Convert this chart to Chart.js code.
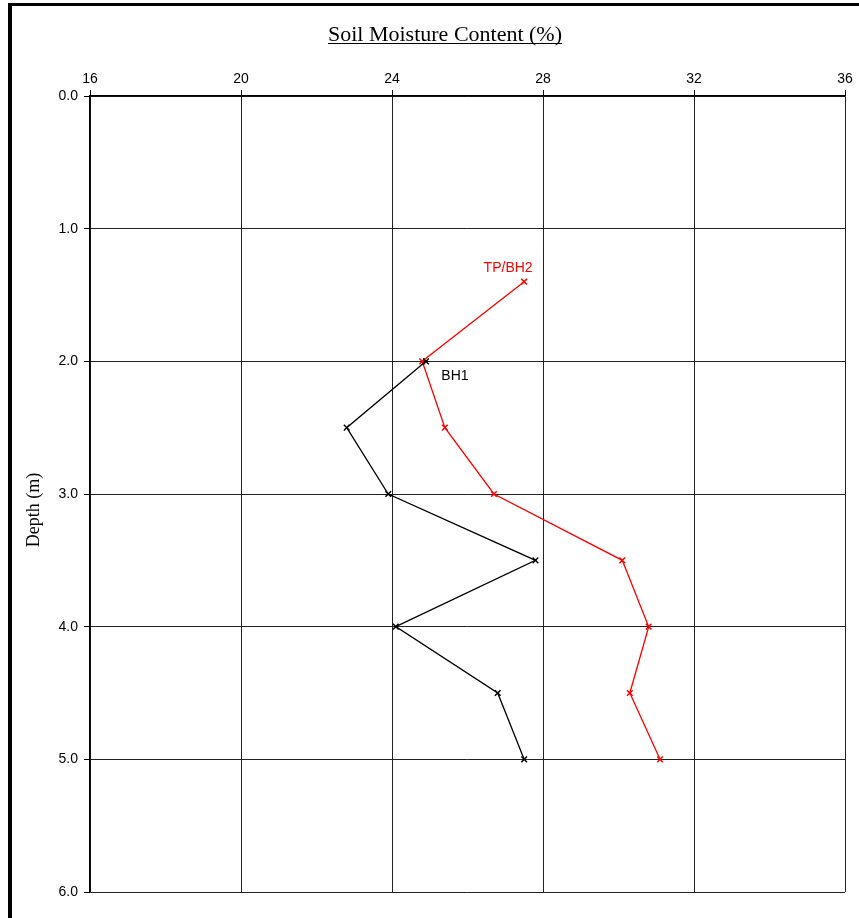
<!DOCTYPE html>
<html>
<head>
<meta charset="utf-8">
<script src="https://cdn.jsdelivr.net/npm/chart.js@4"></script>
<style>
    body { margin: 0; background: #fff; }
    #wrap { width: 859px; height: 918px; }
</style>
</head>
<body>
<div id="wrap"><canvas id="moistureChart" width="859" height="918"></canvas></div>
<script>
// BH1 borehole
const bh1Depth = [2.0, 2.5, 3.0, 3.5, 4.0, 4.5, 5.0];
const bh1Moisture = [24.9, 22.8, 23.9, 27.8, 24.1, 26.8, 27.5];

// TP/BH2 trial pit / borehole
const bh2Depth = [1.4, 2.0, 2.5, 3.0, 3.5, 4.0, 4.5, 5.0];
const bh2Moisture = [27.5, 24.8, 25.4, 26.7, 30.1, 30.8, 30.3, 31.1];

const seriesLabels = ['BH1', 'TP/BH2'];
const chartTitle = 'Soil Moisture Content (%)';
const depthTitle = 'Depth (m)';

function toPoints(xs, ys) {
    return xs.map(function (x, i) { return { x: x, y: ys[i] }; });
}

// outer frame (only left + top edge visible in the picture)
const framePlugin = {
    id: 'frame',
    beforeDraw: function (chart) {
        const ctx = chart.ctx;
        ctx.save();
        ctx.fillStyle = '#fff';
        ctx.fillRect(0, 0, chart.width, chart.height);
        ctx.fillStyle = '#000';
        ctx.fillRect(8, 3, 4, chart.height);
        ctx.fillRect(8, 3, chart.width - 8, 3);
        ctx.restore();
    }
};

// underlined title + rotated depth title
const titlesPlugin = {
    id: 'titles',
    afterDraw: function (chart) {
        const ctx = chart.ctx;
        ctx.save();
        ctx.fillStyle = '#000';
        ctx.font = '22px "Liberation Serif", "Times New Roman", serif';
        ctx.textAlign = 'center';
        ctx.textBaseline = 'alphabetic';
        const cx = 445, by = 41;
        ctx.fillText(chartTitle, cx, by);
        const w = ctx.measureText(chartTitle).width;
        ctx.fillRect(Math.round(cx - w / 2), by + 2, Math.round(w), 1);

        ctx.font = '18px "Liberation Serif", "Times New Roman", serif';
        ctx.translate(34, 510);
        ctx.rotate(-Math.PI / 2);
        ctx.textBaseline = 'middle';
        ctx.fillText(depthTitle, 0, 0);
        ctx.restore();
    }
};

// series names next to their first point
const seriesNamePlugin = {
    id: 'seriesNames',
    afterDatasetsDraw: function (chart) {
        const ctx = chart.ctx;
        ctx.save();
        ctx.font = '14px "Liberation Sans", Arial, sans-serif';
        ctx.textBaseline = 'middle';
        ctx.textAlign = 'center';

        const m1 = chart.getDatasetMeta(0).data[0];
        ctx.fillStyle = '#000';
        ctx.fillText(seriesLabels[0], m1.x + 29, m1.y + 15);

        const m2 = chart.getDatasetMeta(1).data[0];
        ctx.fillStyle = '#ff0000';
        ctx.fillText(seriesLabels[1], m2.x - 16, m2.y - 14);
        ctx.restore();
    }
};

document.addEventListener('DOMContentLoaded', function () {
    const ctx = document.getElementById('moistureChart').getContext('2d');
    new Chart(ctx, {
        type: 'scatter',
        data: {
            datasets: [
                {
                    label: seriesLabels[0],
                    data: toPoints(bh1Moisture, bh1Depth),
                    showLine: true,
                    borderColor: '#000',
                    backgroundColor: '#000',
                    borderWidth: 1.3,
                    pointStyle: 'crossRot',
                    pointRadius: 4,
                    pointBorderWidth: 1.5
                },
                {
                    label: seriesLabels[1],
                    data: toPoints(bh2Moisture, bh2Depth),
                    showLine: true,
                    borderColor: '#ff0000',
                    backgroundColor: '#ff0000',
                    borderWidth: 1.3,
                    pointStyle: 'crossRot',
                    pointRadius: 4,
                    pointBorderWidth: 1.5
                }
            ]
        },
        options: {
            responsive: false,
            animation: false,
            devicePixelRatio: 1,
            layout: { padding: { left: 0, top: 0, right: 14, bottom: 26 } },
            plugins: {
                legend: { display: false },
                title: { display: false },
                tooltip: { enabled: false }
            },
            scales: {
                x: {
                    type: 'linear',
                    position: 'top',
                    min: 16,
                    max: 36,
                    ticks: {
                        stepSize: 4,
                        color: '#000',
                        padding: 2,
                        font: { family: '"Liberation Sans", Arial, sans-serif', size: 14 }
                    },
                    grid: { color: '#222', lineWidth: 1, tickLength: 6, tickColor: '#000' },
                    border: { color: '#000', width: 1.5 },
                    afterFit: function (scale) { scale.height = 96; }
                },
                y: {
                    type: 'linear',
                    reverse: true,
                    min: 0,
                    max: 6,
                    ticks: {
                        stepSize: 1,
                        color: '#000',
                        padding: 6,
                        font: { family: '"Liberation Sans", Arial, sans-serif', size: 14 },
                        callback: function (v) { return Number(v).toFixed(1); }
                    },
                    grid: { color: '#222', lineWidth: 1, tickLength: 6, tickColor: '#000' },
                    border: { color: '#000', width: 1.5 },
                    afterFit: function (scale) { scale.width = 90; }
                }
            }
        },
        plugins: [framePlugin, titlesPlugin, seriesNamePlugin]
    });
});
</script>
</body>
</html>
